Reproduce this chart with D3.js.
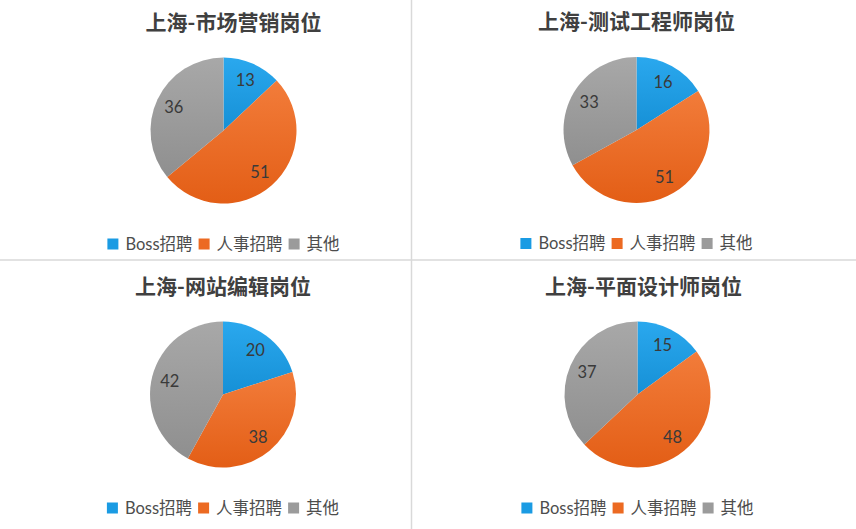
<!DOCTYPE html>
<meta charset="utf-8">
<style>
body { margin: 0; background: #fff; }
.title { font-family: "Noto Sans CJK SC", sans-serif; font-weight: bold; font-size: 21px; fill: #404040; }
.label { font-family: Lato, "Noto Sans CJK SC", sans-serif; font-size: 16.5px; fill: #3a3a3a; }
.legend text { font-family: Lato, "Noto Sans CJK SC", sans-serif; font-size: 16.5px; fill: #4d4d4d; }
.sep { stroke: #d9d9d9; stroke-width: 1.5px; }
</style>
<svg width="856" height="529"></svg>
<script src="https://cdn.jsdelivr.net/npm/d3@7"></script>
<script>

// data
var titles = ["上海-市场营销岗位", "上海-测试工程师岗位", "上海-网站编辑岗位", "上海-平面设计师岗位"];
var sources = ["Boss招聘", "人事招聘", "其他"];
var shichang = [13, 51, 36];
var ceshi = [16, 51, 33];
var bianji = [20, 38, 42];
var sheji = [15, 48, 37];
var panelValues = [shichang, ceshi, bianji, sheji];

// layout (pie centre, title offset)
var panels = [
  {cx: 223.5, cy: 130.5, tdx: 10},
  {cx: 636.5, cy: 130, tdx: 0},
  {cx: 223, cy: 394.5, tdx: 0},
  {cx: 637.5, cy: 394.5, tdx: 6}
];

var svg = d3.select("svg"),
    width = +svg.attr("width"),
    height = +svg.attr("height");

var color = d3.scaleOrdinal()
    .domain(sources)
    .range(["#1a9be3", "#ec6a22", "#9b9b9b"]);

var radius = 73;

var pie = d3.pie().sort(null).value(function(d) { return d.value; });
var arc = d3.arc().innerRadius(0).outerRadius(radius);
var labelArc = d3.arc().innerRadius(55).outerRadius(55);

// soft vertical gradient like the office chart fills
var defs = svg.append("defs");
var light = ["#2aa8ee", "#f27c3a", "#a8a8a8"],
    dark = ["#1690d6", "#e35e16", "#8f8f8f"];
sources.forEach(function(s, i) {
  var g = defs.append("linearGradient")
      .attr("id", "grad" + i)
      .attr("x1", 0).attr("y1", 0).attr("x2", 0).attr("y2", 1);
  g.append("stop").attr("offset", "0%").attr("stop-color", light[i]);
  g.append("stop").attr("offset", "100%").attr("stop-color", dark[i]);
});

// separators
svg.append("line").attr("class", "sep")
    .attr("x1", 411.5).attr("x2", 411.5).attr("y1", 0).attr("y2", height);
svg.append("line").attr("class", "sep")
    .attr("x1", 0).attr("x2", width).attr("y1", 260).attr("y2", 260);

panelValues.forEach(function(vals, p) {
  var lay = panels[p];
  var data = sources.map(function(s, i) { return {name: s, value: vals[i], idx: i}; });

  var g = svg.append("g")
      .attr("transform", "translate(" + lay.cx + "," + lay.cy + ")");

  g.selectAll(".slice")
      .data(pie(data))
      .enter()
      .append("path")
      .attr("class", "slice")
      .attr("d", arc)
      .attr("fill", function(d) { return "url(#grad" + d.data.idx + ")"; });

  g.selectAll(".label")
      .data(pie(data))
      .enter()
      .append("text")
      .attr("class", "label")
      .attr("transform", function(d) { return "translate(" + labelArc.centroid(d) + ")"; })
      .attr("text-anchor", "middle")
      .attr("dy", ".35em")
      .text(function(d) { return d.data.value; });

  svg.append("text")
      .attr("class", "title")
      .attr("x", lay.cx + lay.tdx)
      .attr("y", lay.cy - 101)
      .attr("text-anchor", "middle")
      .text(titles[p]);

  // legend, centred under the pie
  var legend = svg.append("g").attr("class", "legend");
  var items = legend.selectAll("g")
      .data(sources)
      .enter()
      .append("g");

  items.append("rect")
      .attr("width", 11)
      .attr("height", 11)
      .attr("y", -5.5)
      .attr("fill", function(d) { return color(d); });

  items.append("text")
      .attr("x", 18)
      .attr("dy", ".35em")
      .text(function(d) { return d; });

  var x = 0;
  items.each(function() {
    var w = this.querySelector("text").getComputedTextLength();
    d3.select(this).attr("transform", "translate(" + x + ",0)");
    x += 18 + w + 6;
  });
  var total = x - 6;
  legend.attr("transform", "translate(" + (lay.cx - total / 2) + "," + (lay.cy + 113.5) + ")");
});

</script>
